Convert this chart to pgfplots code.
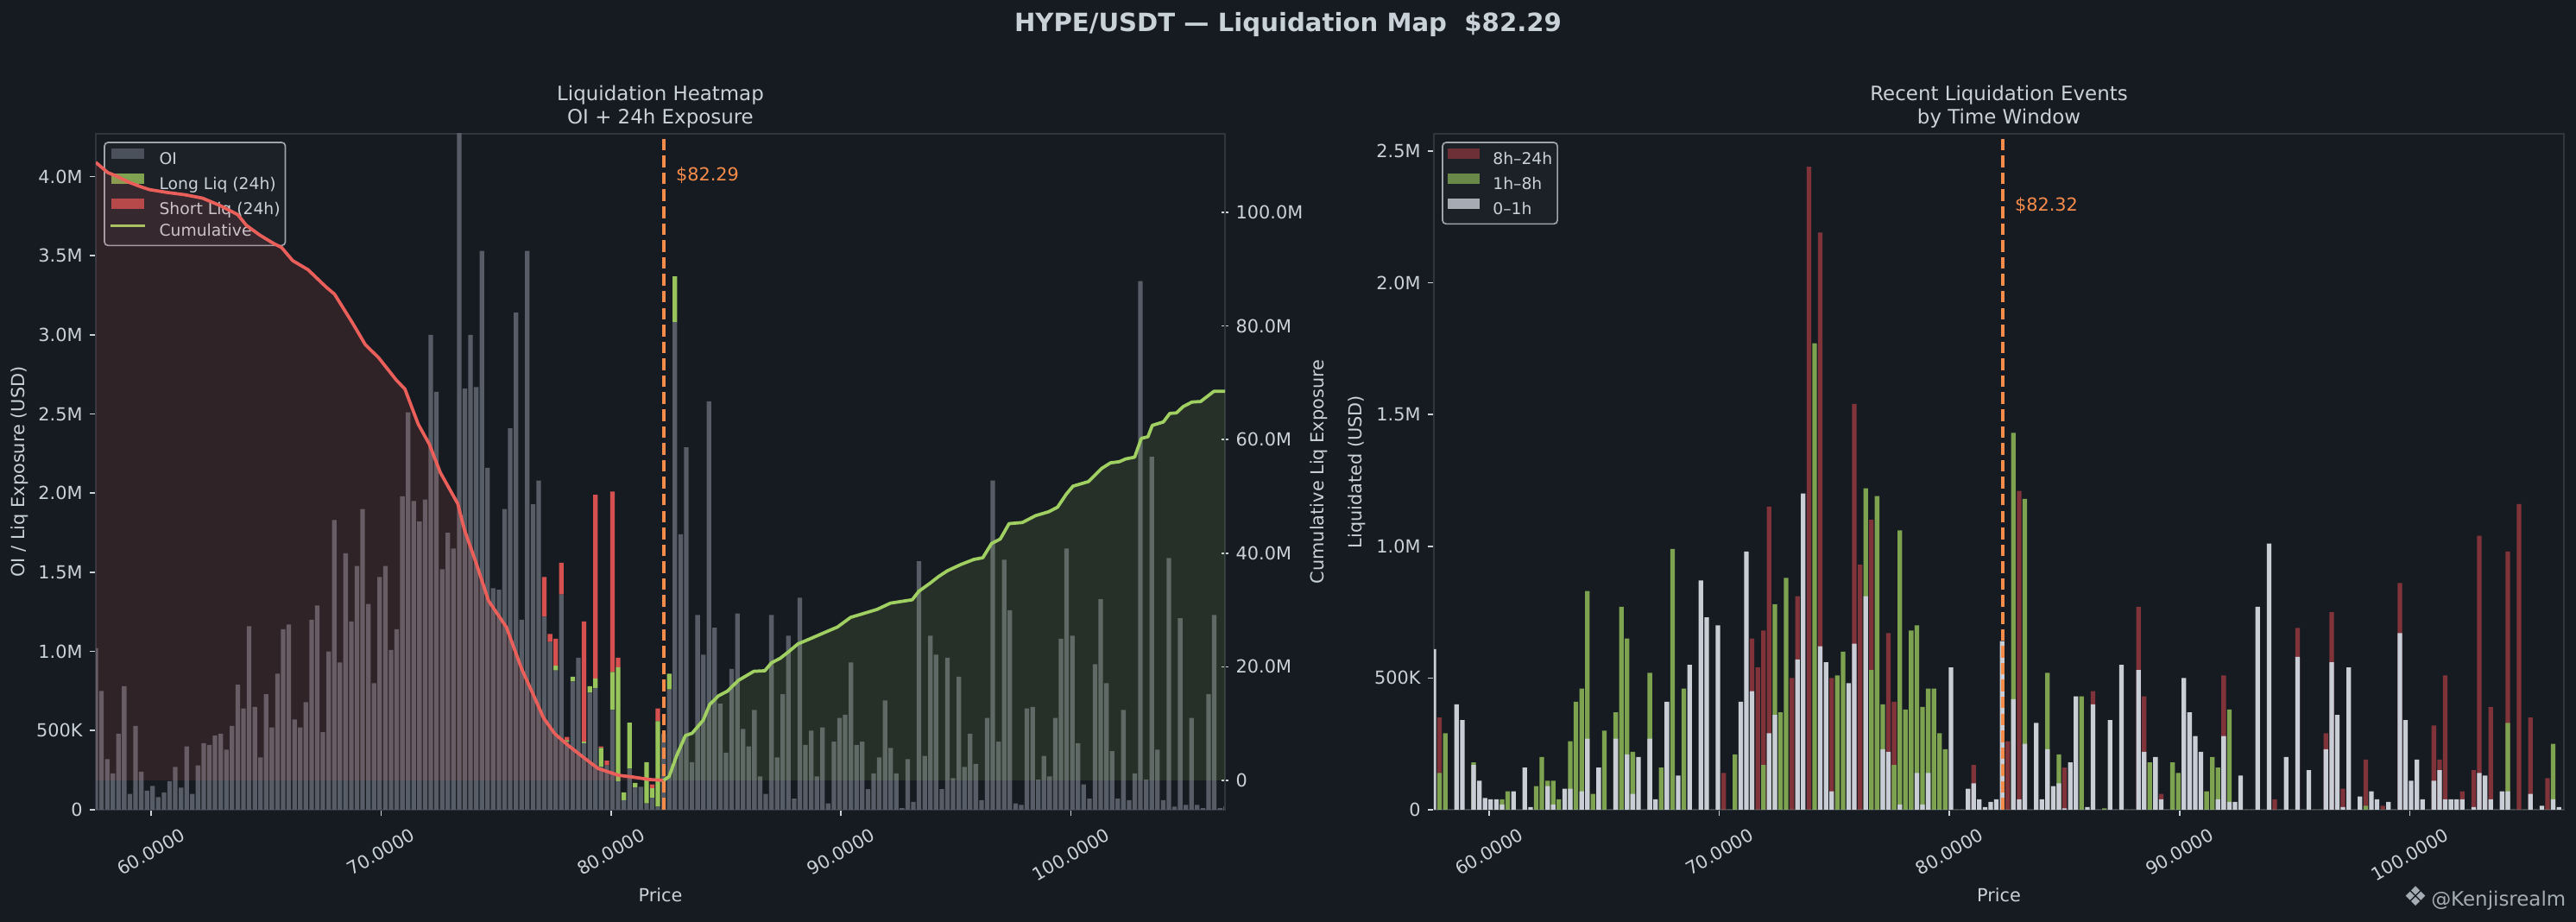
\documentclass[border=0pt]{standalone}
\usepackage{fontspec}
\setmainfont{DejaVu Sans}
\usepackage{graphicx}
\usepackage{pgfplots}
\usepackage{pgfplotstable}
\pgfplotsset{compat=1.18}

\definecolor{bg}{HTML}{161B22}
\definecolor{spine}{HTML}{30363D}
\definecolor{txt}{HTML}{C9D1D9}
\definecolor{oicol}{HTML}{575D67}
\definecolor{longc}{HTML}{98C45C}
\definecolor{shortc}{HTML}{D65050}
\definecolor{cumred}{HTML}{EB5F5A}
\definecolor{cumgreen}{HTML}{A0CF62}
\definecolor{orangec}{HTML}{F78C4A}
\definecolor{rtf}{HTML}{80343A}
\definecolor{gef}{HTML}{7DA350}
\definecolor{wzo}{HTML}{C8CDD6}
\definecolor{legfill}{HTML}{1E232A}
\definecolor{legedge}{HTML}{9EA4AB}

\pgfplotsset{
  darkaxis/.style={
    scale only axis,
    axis line style={draw=spine, line width=0.8pt},
    tick style={draw=txt, line width=0.8pt},
    major tick length=3.5pt,
    tick align=outside,
    tick label style={font=\fontsize{10}{12}\selectfont, text=txt},
    label style={font=\fontsize{10}{12}\selectfont, text=txt},
    /pgf/number format/assume math mode=true,
  },
  mypatch/.style={legend image code/.code={\fill[##1, draw=none, sharp corners] (0pt,0.4pt) rectangle (18pt,6.3pt);}},
  myline/.style={legend image code/.code={\draw[##1, sharp corners] (-0.6pt,3.3pt) -- (18.6pt,3.3pt);}},
  mylegend/.style={legend cell align=left,
    legend style={at={(0,1)}, anchor=north west, xshift=4.4pt, yshift=-4.4pt,
      draw=legedge, line width=0.8pt, fill=legfill, fill opacity=0.8, text opacity=1,
      text=txt, rounded corners=2pt, font=\fontsize{9}{10.8}\selectfont,
      inner xsep=2.8pt, inner ysep=3.4pt, row sep=3.2pt,
      nodes={inner sep=0pt, text height=6.8pt, text depth=2pt},
      /tikz/every odd column/.append style={column sep=7.2pt}}},
  pricex/.style={xmin=57.6, xmax=106.7,
    xtick={60,70,80,90,100},
    xticklabels={{\rotatebox{30}{60.0000}},{\rotatebox{30}{70.0000}},{\rotatebox{30}{80.0000}},{\rotatebox{30}{90.0000}},{\rotatebox{30}{100.0000}}},
    xticklabel style={anchor=north, inner sep=0pt, yshift=-6.1pt},
    xlabel={Price},
    xlabel style={at={(rel axis cs:0.5,-0.13665)}, anchor=base, text=txt}},
}

\pgfplotstableread{
i oi lg sh
0 1.02 0 0
1 0.75 0 0
2 0.32 0 0
3 0.23 0 0
4 0.48 0 0
5 0.78 0 0
6 0.10 0 0
7 0.53 0 0
8 0.24 0 0
9 0.12 0 0
10 0.15 0 0
11 0.08 0 0
12 0.11 0 0
13 0.18 0 0
14 0.27 0 0
15 0.14 0 0
16 0.40 0 0
17 0.10 0 0
18 0.28 0 0
19 0.42 0 0
20 0.41 0 0
21 0.47 0 0
22 0.48 0 0
23 0.38 0 0
24 0.53 0 0
25 0.79 0 0
26 0.64 0 0
27 1.16 0 0
28 0.65 0 0
29 0.33 0 0
30 0.73 0 0
31 0.52 0 0
32 0.86 0 0
33 1.14 0 0
34 1.17 0 0
35 0.57 0 0
36 0.52 0 0
37 0.68 0 0
38 1.20 0 0
39 1.29 0 0
40 0.49 0 0
41 1.00 0 0
42 1.83 0 0
43 0.93 0 0
44 1.62 0 0
45 1.19 0 0
46 1.54 0 0
47 1.90 0 0
48 1.30 0 0
49 0.80 0 0
50 1.47 0 0
51 1.54 0 0
52 1.01 0 0
53 1.14 0 0
54 1.98 0 0
55 2.51 0 0
56 1.95 0 0
57 1.82 0 0
58 1.96 0 0
59 3.00 0 0
60 2.64 0 0
61 1.52 0 0
62 1.75 0 0
63 1.65 0 0
64 4.40 0 0
65 2.66 0 0
66 3.00 0 0
67 2.67 0 0
68 3.53 0 0
69 2.16 0 0
70 1.40 0 0
71 1.39 0 0
72 1.90 0 0
73 2.41 0 0
74 3.14 0 0
75 1.20 0 0
76 3.53 0 0
77 1.93 0 0
78 2.08 0 0
79 1.22 0 0.25
80 1.06 0 0.05
81 0.88 0.03 0.17
82 1.36 0 0.20
83 0.43 0.01 0.02
84 0.81 0.03 0
85 0.96 0 0
86 0.42 0.01 0.76
87 0.74 0.04 0
88 0.77 0.06 1.16
89 0.27 0.12 0.01
90 0.28 0 0.03
91 0.63 0.24 1.14
92 0.18 0.72 0.06
93 0.06 0.05 0
94 0.26 0.29 0
95 0.14 0.03 0
96 0.145 0 0
97 0.04 0.26 0
98 0.075 0.06 0.025
99 0.02 0.54 0.08
100 0.48 0 0
101 0.76 0.10 0
102 3.08 0.29 0
103 1.74 0 0
104 2.29 0 0
105 0.30 0 0
106 1.23 0 0
107 0.98 0 0
108 2.58 0 0
109 1.15 0 0
110 0.67 0 0
111 0.36 0 0
112 0.89 0 0
113 1.24 0 0
114 0.51 0 0
115 0.40 0 0
116 0.63 0 0
117 0.21 0 0
118 0.10 0 0
119 1.23 0 0
120 0.33 0 0
121 0.73 0 0
122 1.10 0 0
123 0.07 0 0
124 1.34 0 0
125 0.41 0 0
126 0.50 0 0
127 0.21 0 0
128 0.52 0 0
129 0.04 0 0
130 0.43 0 0
131 0.58 0 0
132 0.60 0 0
133 0.93 0 0
134 0.41 0 0
135 0.43 0 0
136 0.13 0 0
137 0.23 0 0
138 0.33 0 0
139 0.69 0 0
140 0.39 0 0
141 0.23 0 0
142 0.01 0 0
143 0.32 0 0
144 0.05 0 0
145 1.57 0 0
146 0.34 0 0
147 1.10 0 0
148 0.98 0 0
149 0.13 0 0
150 0.96 0 0
151 0.20 0 0
152 0.84 0 0
153 0.27 0 0
154 0.48 0 0
155 0.29 0 0
156 0.06 0 0
157 0.58 0 0
158 2.08 0 0
159 0.43 0 0
160 1.58 0 0
161 1.26 0 0
162 0.04 0 0
163 0.03 0 0
164 0.64 0 0
165 0.65 0 0
166 0.19 0 0
167 0.34 0 0
168 0.21 0 0
169 0.58 0 0
170 1.08 0 0
171 1.65 0 0
172 1.10 0 0
173 0.42 0 0
174 0.16 0 0
175 0.07 0 0
176 0.92 0 0
177 1.33 0 0
178 0.80 0 0
179 0.37 0 0
180 0.07 0 0
181 0.63 0 0
182 0.06 0 0
183 0.23 0 0
184 3.34 0 0
185 0.19 0 0
186 2.23 0 0
187 0.38 0 0
188 0.06 0 0
189 1.59 0 0
190 0.02 0 0
191 1.21 0 0
192 0.03 0 0
193 0.58 0 0
194 0.03 0 0
195 0.01 0 0
196 0.73 0 0
197 1.23 0 0
198 0.01 0 0
199 0.02 0 0
}\leftdata

\pgfplotstableread{
i r g w
0 0 0 0.61
1 0.35 0.14 0
2 0 0.29 0
3 0 0 0
4 0 0 0.40
5 0 0 0.34
6 0 0 0
7 0 0.18 0.17
8 0 0 0.11
9 0 0 0.045
10 0 0 0.04
11 0 0 0.04
12 0 0.04 0.02
13 0 0.07 0
14 0 0 0.07
15 0 0 0
16 0 0 0.16
17 0 0 0.01
18 0 0.09 0
19 0 0.20 0
20 0 0.11 0.09
21 0 0.11 0.02
22 0 0.04 0
23 0 0 0.08
24 0 0.26 0.08
25 0 0.41 0
26 0 0.46 0.07
27 0 0.83 0.27
28 0 0.06 0
29 0 0 0.16
30 0 0.30 0
31 0 0 0
32 0 0.37 0.27
33 0 0.77 0
34 0 0.65 0.21
35 0 0.22 0.06
36 0 0 0.20
37 0 0 0
38 0 0.52 0.27
39 0 0 0.04
40 0 0.16 0
41 0 0 0.41
42 0 0.99 0
43 0 0 0.13
44 0 0.46 0
45 0 0 0.55
46 0 0 0
47 0 0 0.87
48 0 0 0.73
49 0 0 0
50 0 0 0.70
51 0.14 0 0
52 0 0 0
53 0 0.21 0
54 0 0 0.41
55 0 0 0.98
56 0.65 0 0.45
57 0.54 0 0
58 0.68 0.17 0
59 1.15 0 0.29
60 0 0.78 0.36
61 0 0.37 0
62 0 0.88 0
63 0.50 0 0
64 0.81 0 0.57
65 0 0 1.20
66 2.44 0 0
67 0 1.77 0
68 2.19 0 0.62
69 0 0 0.56
70 0.50 0 0.07
71 0 0.51 0
72 0 0.60 0
73 0 0 0.48
74 1.54 0 0.63
75 0.93 0 0
76 0 1.22 0.81
77 1.10 0.53 0
78 0 1.19 0
79 0 0.40 0.23
80 0.67 0 0.22
81 0.41 0.17 0
82 0 1.06 0.02
83 0 0.38 0
84 0 0.68 0
85 0 0.70 0.14
86 0 0.39 0.02
87 0 0.46 0.14
88 0 0.46 0
89 0 0.29 0
90 0 0.23 0
91 0 0 0.54
92 0 0 0
93 0 0 0
94 0 0 0.08
95 0.17 0 0.10
96 0 0 0.04
97 0 0 0.01
98 0 0 0.03
99 0 0 0.04
100 0 0 0.64
101 0.26 0 0
102 0 1.43 0.42
103 1.21 0 0.04
104 0 1.18 0.25
105 0 0 0
106 0 0 0.33
107 0 0 0.04
108 0 0.52 0.23
109 0 0 0.09
110 0 0.21 0.10
111 0.16 0 0.005
112 0 0 0.18
113 0 0 0.43
114 0 0.43 0
115 0 0 0.01
116 0.45 0 0.40
117 0 0 0
118 0 0.005 0
119 0 0 0.34
120 0 0 0
121 0 0 0.55
122 0 0 0
123 0 0 0
124 0.77 0 0.53
125 0.43 0 0.22
126 0 0.18 0
127 0 0 0.20
128 0.06 0 0.04
129 0 0 0
130 0 0.18 0
131 0 0.14 0
132 0 0 0.50
133 0 0 0.37
134 0 0 0.28
135 0 0 0.22
136 0 0.07 0
137 0 0.20 0
138 0 0.16 0.04
139 0.51 0 0.28
140 0 0.38 0.03
141 0 0 0.03
142 0 0 0.13
143 0 0 0
144 0 0 0
145 0 0 0.77
146 0 0 0
147 0 0 1.01
148 0.04 0 0
149 0 0 0
150 0 0 0.20
151 0 0 0
152 0.69 0 0.58
153 0 0 0
154 0 0 0.15
155 0 0 0
156 0 0 0
157 0.29 0 0.23
158 0.75 0 0.56
159 0 0 0.36
160 0.08 0 0.01
161 0 0 0.54
162 0 0 0
163 0 0 0.05
164 0.19 0.015 0
165 0 0 0.07
166 0 0 0.04
167 0.015 0 0
168 0 0 0.03
169 0 0 0
170 0.86 0 0.67
171 0 0 0.34
172 0 0 0.11
173 0 0 0.19
174 0 0 0.04
175 0 0 0
176 0.32 0 0.11
177 0.19 0 0.15
178 0.51 0 0.04
179 0 0 0.04
180 0 0 0.04
181 0.07 0 0.04
182 0 0 0
183 0.15 0 0.01
184 1.04 0 0.14
185 0 0 0.13
186 0.39 0 0.04
187 0 0 0
188 0 0 0.07
189 0.98 0.33 0.07
190 0 0 0
191 1.16 0 0
192 0 0 0
193 0.35 0 0.06
194 0 0 0
195 0 0 0.015
196 0.12 0 0
197 0 0.25 0.04
198 0 0 0.01
199 0 0 0
}\rightdata

\begin{document}
\begin{tikzpicture}
\fill[bg] (0,0) rectangle (1432.32pt,512.64pt);

% ---------------- left panel: bars (legend here, so the twin draws over it) ----------------
\begin{axis}[darkaxis, pricex, mylegend,
  at={(53.28pt,62.4pt)}, anchor=south west, width=627.84pt, height=375.84pt,
  ymin=0, ymax=4.27,
  xtick pos=left, ytick pos=left,
  ytick={0,0.5,1,1.5,2,2.5,3,3.5,4},
  yticklabels={0,500K,1.0M,1.5M,2.0M,2.5M,3.0M,3.5M,4.0M},
  yticklabel style={anchor=east, inner sep=0pt, xshift=-3.7pt},
  ylabel={OI / Liq Exposure (USD)},
  ylabel style={at={(rel axis cs:-0.06728,0.5)}, anchor=center, text=txt},
  ybar stacked, bar width=0.198,
]
\addplot[fill=oicol, draw=none, mypatch] table[x expr=57.6+\thisrow{i}*0.24687, y=oi] {\leftdata};
\addlegendentry{OI}
\addplot[fill=longc, draw=none, mypatch] table[x expr=57.6+\thisrow{i}*0.24687, y=lg] {\leftdata};
\addlegendentry{Long Liq (24h)}
\addplot[fill=shortc, draw=none, mypatch] table[x expr=57.6+\thisrow{i}*0.24687, y=sh] {\leftdata};
\addlegendentry{Short Liq (24h)}
\addlegendimage{myline, draw=cumgreen, line width=1.3pt}
\addlegendentry{Cumulative}
\node[anchor=west, text=orangec, font=\fontsize{10}{12}\selectfont, inner sep=0pt] at (axis cs:82.81,4.01) {\$82.29};
\end{axis}

% ---------------- left panel: cumulative twin ----------------
\begin{axis}[darkaxis,
  at={(53.28pt,62.4pt)}, anchor=south west, width=627.84pt, height=375.84pt,
  xmin=57.6, xmax=106.7, ymin=-5.17, ymax=113.83,
  axis x line=none, axis y line=right,
  axis line style={-, draw=spine, line width=0.8pt},
  ytick={0,20,40,60,80,100},
  yticklabels={0,20.0M,40.0M,60.0M,80.0M,100.0M},
  yticklabel style={anchor=west, inner sep=0pt, xshift=4.1pt},
  ylabel={Cumulative Liq Exposure},
  ylabel style={at={(rel axis cs:1.08333,0.5)}, anchor=center, text=txt, font=\fontsize{10}{12}\selectfont},
]
\addplot[draw=none, fill=cumred, fill opacity=0.12] coordinates {
(57.6,0) (57.6,108.8) (58.12,107.0) (58.50,106.4) (58.98,105.4) (59.56,104.5) (59.94,104.0) (60.71,103.5) (61.47,103.1) (62.24,102.5) (63.00,101.2) (63.77,99.6) (64.15,97.7) (64.73,96.0) (65.30,94.6) (65.68,93.8) (66.16,91.5) (66.83,89.9) (67.60,86.9) (67.98,85.6) (68.75,80.6) (69.32,76.7) (69.90,74.4) (70.66,70.5) (71.04,68.9) (71.62,62.7) (72.10,59.2) (72.58,54.2) (73.34,48.7) (73.63,44.1) (74.11,38.6) (74.68,31.6) (75.45,27.0) (76.12,19.6) (76.60,15.3) (77.07,11.0) (77.56,8.2) (78.13,6.2) (78.82,4.0) (79.44,2.1) (80.33,0.9) (80.94,0.6) (81.69,0.15) (82.29,0.0)};
\addplot[draw=none, fill=cumgreen, fill opacity=0.12] coordinates {
(82.29,0) (82.53,0.7) (82.86,4.4) (83.24,7.9) (83.53,8.3) (84.01,10.6) (84.30,13.4) (84.68,14.9) (85.06,15.7) (85.54,17.6) (86.21,19.2) (86.69,19.3) (86.98,20.7) (87.36,21.5) (87.74,22.7) (88.12,24.0) (88.70,25.0) (89.27,26.0) (89.85,27.0) (90.42,28.7) (91.00,29.4) (91.57,30.1) (92.15,31.2) (93.10,31.8) (93.39,33.3) (93.87,34.7) (94.25,35.9) (94.63,36.9) (95.21,38.0) (95.78,38.9) (96.17,39.2) (96.55,41.7) (96.93,42.5) (97.31,45.2) (97.89,45.4) (98.46,46.6) (99.04,47.3) (99.42,48.1) (99.80,50.4) (100.09,51.8) (100.76,52.6) (101.33,54.9) (101.72,55.9) (102.10,56.1) (102.39,56.6) (102.77,56.9) (103.06,60.2) (103.35,60.5) (103.54,62.5) (104.02,63.1) (104.30,64.6) (104.59,64.7) (104.88,65.8) (105.26,66.6) (105.64,66.7) (106.22,68.5) (106.70,68.5) (106.70,0)};
\addplot[cumred, line width=1.8pt, line join=round] coordinates {
(57.6,108.8) (58.12,107.0) (58.50,106.4) (58.98,105.4) (59.56,104.5) (59.94,104.0) (60.71,103.5) (61.47,103.1) (62.24,102.5) (63.00,101.2) (63.77,99.6) (64.15,97.7) (64.73,96.0) (65.30,94.6) (65.68,93.8) (66.16,91.5) (66.83,89.9) (67.60,86.9) (67.98,85.6) (68.75,80.6) (69.32,76.7) (69.90,74.4) (70.66,70.5) (71.04,68.9) (71.62,62.7) (72.10,59.2) (72.58,54.2) (73.34,48.7) (73.63,44.1) (74.11,38.6) (74.68,31.6) (75.45,27.0) (76.12,19.6) (76.60,15.3) (77.07,11.0) (77.56,8.2) (78.13,6.2) (78.82,4.0) (79.44,2.1) (80.33,0.9) (80.94,0.6) (81.69,0.15) (82.29,0.0)};
\addplot[cumgreen, line width=1.8pt, line join=round] coordinates {
(82.29,0) (82.53,0.7) (82.86,4.4) (83.24,7.9) (83.53,8.3) (84.01,10.6) (84.30,13.4) (84.68,14.9) (85.06,15.7) (85.54,17.6) (86.21,19.2) (86.69,19.3) (86.98,20.7) (87.36,21.5) (87.74,22.7) (88.12,24.0) (88.70,25.0) (89.27,26.0) (89.85,27.0) (90.42,28.7) (91.00,29.4) (91.57,30.1) (92.15,31.2) (93.10,31.8) (93.39,33.3) (93.87,34.7) (94.25,35.9) (94.63,36.9) (95.21,38.0) (95.78,38.9) (96.17,39.2) (96.55,41.7) (96.93,42.5) (97.31,45.2) (97.89,45.4) (98.46,46.6) (99.04,47.3) (99.42,48.1) (99.80,50.4) (100.09,51.8) (100.76,52.6) (101.33,54.9) (101.72,55.9) (102.10,56.1) (102.39,56.6) (102.77,56.9) (103.06,60.2) (103.35,60.5) (103.54,62.5) (104.02,63.1) (104.30,64.6) (104.59,64.7) (104.88,65.8) (105.26,66.6) (105.64,66.7) (106.22,68.5) (106.70,68.5)};
\addplot[orangec, line width=1.8pt, dash pattern=on 6.5pt off 2.9pt] coordinates {(82.29,-5.17) (82.29,113.83)};
\end{axis}

% ---------------- right panel ----------------
\begin{axis}[darkaxis, pricex, mylegend,
  at={(797.28pt,62.4pt)}, anchor=south west, width=628.32pt, height=375.84pt,
  ymin=0, ymax=2.565,
  xtick pos=left, ytick pos=left,
  ytick={0,0.5,1,1.5,2,2.5},
  yticklabels={0,500K,1.0M,1.5M,2.0M,2.5M},
  yticklabel style={anchor=east, inner sep=0pt, xshift=-3.7pt},
  ylabel={Liquidated (USD)},
  ylabel style={at={(rel axis cs:-0.06837,0.5)}, anchor=center, text=txt},
  ybar, bar width=0.198, bar shift=0pt,
]
\addplot[fill=rtf, draw=none, mypatch] table[x expr=57.6+\thisrow{i}*0.24687, y=r] {\rightdata};
\addlegendentry{8h–24h}
\addplot[fill=gef, draw=none, mypatch] table[x expr=57.6+\thisrow{i}*0.24687, y=g] {\rightdata};
\addlegendentry{1h–8h}
\addplot[fill=wzo, draw=none, mypatch] table[x expr=57.6+\thisrow{i}*0.24687, y=w] {\rightdata};
\addlegendentry{0–1h}
\addplot[sharp plot, orangec, line width=1.8pt, dash pattern=on 6.5pt off 2.9pt, forget plot] coordinates {(82.32,0) (82.32,2.565)};
\node[anchor=west, text=orangec, font=\fontsize{10}{12}\selectfont, inner sep=0pt] at (axis cs:82.83,2.294) {\$82.32};
\end{axis}

% ---------------- titles ----------------
\node[anchor=base, text=txt, font=\bfseries\fontsize{14}{17}\selectfont] at (716.16pt,494.9pt) {HYPE/USDT — Liquidation Map\ \ \$82.29};
\node[anchor=base, text=txt, font=\fontsize{11}{13}\selectfont] at (367.2pt,456.6pt) {Liquidation Heatmap};
\node[anchor=base, text=txt, font=\fontsize{11}{13}\selectfont] at (367.2pt,443.9pt) {OI + 24h Exposure};
\node[anchor=base, text=txt, font=\fontsize{11}{13}\selectfont] at (1111.44pt,456.6pt) {Recent Liquidation Events};
\node[anchor=base, text=txt, font=\fontsize{11}{13}\selectfont] at (1111.44pt,443.9pt) {by Time Window};
\node[anchor=west, text=txt!80!bg, inner sep=0pt] at (1336.5pt,12.96pt) {{\fontsize{15}{15}\selectfont ❖}\,{\fontsize{11}{13}\selectfont @Kenjisrealm}};

\pgfresetboundingbox
\path[use as bounding box] (0,0) rectangle (1432.32pt,512.64pt);
\end{tikzpicture}
\end{document}
